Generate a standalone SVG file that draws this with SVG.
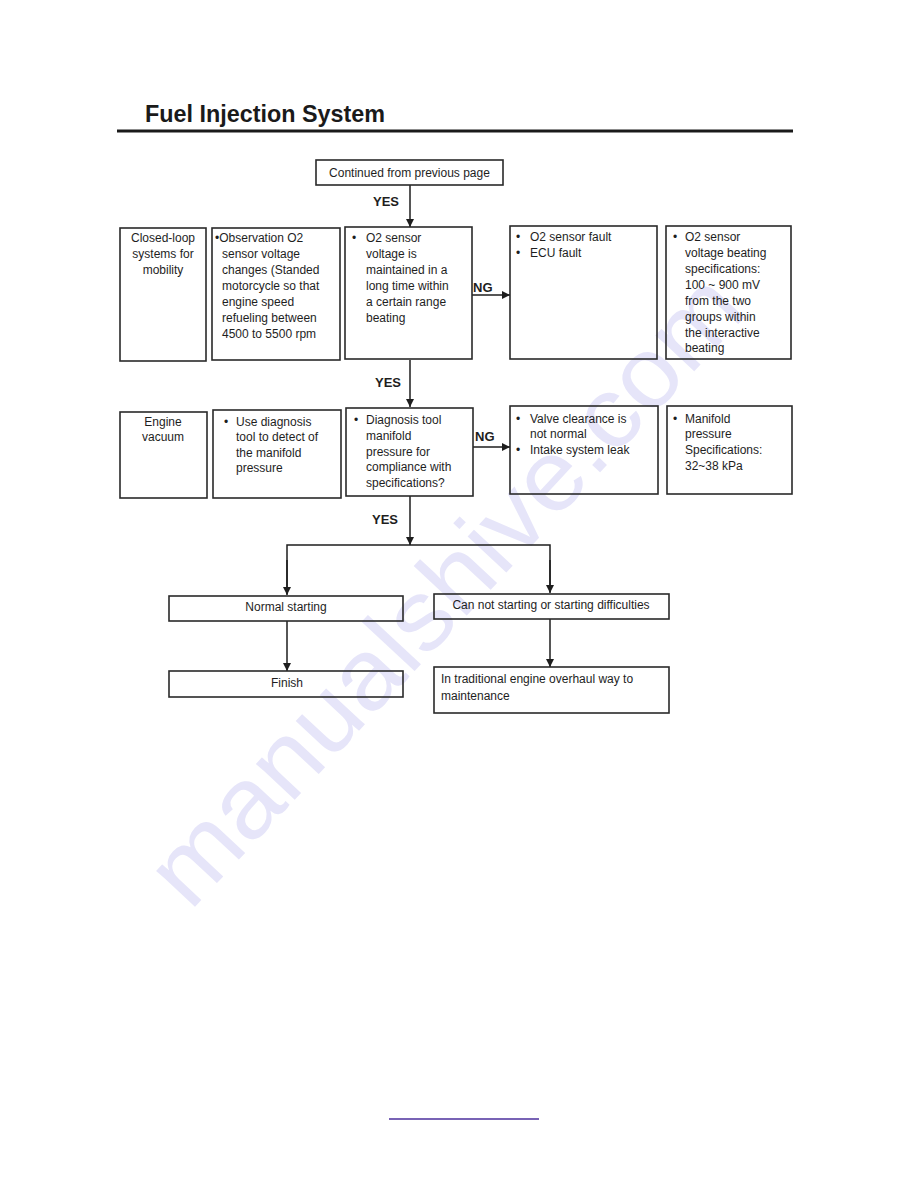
<svg xmlns="http://www.w3.org/2000/svg" width="918" height="1188" viewBox="0 0 918 1188">
<defs>
<marker id="ah" viewBox="0 0 10 10" refX="10" refY="5" markerWidth="9" markerHeight="8" markerUnits="userSpaceOnUse" orient="auto">
<path d="M0,0 L10,5 L0,10 z" fill="#1e1e1e"/>
</marker>
<style>
.bx{fill:none;stroke:#2a2a2a;stroke-width:1.6}
.t{font-family:"Liberation Sans",Arial,sans-serif;font-size:12px;fill:#1e1e1e}
.c{text-anchor:middle}
.lb{font-family:"Liberation Sans",Arial,sans-serif;font-size:13px;font-weight:bold;fill:#1e1e1e}
.ln{fill:none;stroke:#1e1e1e;stroke-width:1.5}
.wm{font-family:"Liberation Sans",Arial,sans-serif;font-size:100px;fill:#c8c6f3;opacity:0.45}
</style>
</defs>
<rect width="918" height="1188" fill="#ffffff"/>
<text class="wm" transform="translate(190,912) rotate(-47)" textLength="820" lengthAdjust="spacingAndGlyphs">manualshive.com</text>

<g id="header">
<text x="145" y="122" font-family="'Liberation Sans',Arial,sans-serif" font-size="24" font-weight="bold" fill="#1a1a1a" textLength="240" lengthAdjust="spacingAndGlyphs">Fuel Injection System</text>
<line x1="117" y1="131" x2="793" y2="131" stroke="#1a1a1a" stroke-width="3"/>
</g>

<g id="connectors">
<line class="ln" x1="410" y1="185" x2="410" y2="227" marker-end="url(#ah)"/>
<line class="ln" x1="472" y1="295" x2="510" y2="295" marker-end="url(#ah)"/>
<line class="ln" x1="410" y1="360" x2="410" y2="407" marker-end="url(#ah)"/>
<line class="ln" x1="473" y1="447" x2="510" y2="447" marker-end="url(#ah)"/>
<line class="ln" x1="410" y1="496" x2="410" y2="545" marker-end="url(#ah)"/>
<polyline class="ln" points="287,594 287,545 550,545 550,592"/>
<line class="ln" x1="287" y1="560" x2="287" y2="595" marker-end="url(#ah)"/>
<line class="ln" x1="550" y1="560" x2="550" y2="593" marker-end="url(#ah)"/>
<line class="ln" x1="287" y1="621" x2="287" y2="671" marker-end="url(#ah)"/>
<line class="ln" x1="550" y1="619" x2="550" y2="667" marker-end="url(#ah)"/>
<text class="lb" x="373" y="206">YES</text>
<text class="lb" x="375" y="387">YES</text>
<text class="lb" x="473" y="292">NG</text>
<text class="lb" x="475" y="441">NG</text>
<text class="lb" x="372" y="524">YES</text>
</g>

<g id="n-continued">
<rect class="bx" x="316" y="160" width="187" height="25"/>
<text class="t c" x="409.5" y="177">Continued from previous page</text>
</g>

<g id="n-closedloop">
<rect class="bx" x="120" y="228" width="86" height="133"/>
<text class="t c" x="163" y="242">Closed-loop</text>
<text class="t c" x="163" y="258">systems for</text>
<text class="t c" x="163" y="274">mobility</text>
</g>

<g id="n-observation">
<rect class="bx" x="212" y="228" width="128" height="132"/>
<text class="t" x="215" y="242">•Observation O2</text>
<text class="t" x="222" y="258">sensor voltage</text>
<text class="t" x="222" y="274">changes (Standed</text>
<text class="t" x="222" y="290">motorcycle so that</text>
<text class="t" x="222" y="306">engine speed</text>
<text class="t" x="222" y="322">refueling between</text>
<text class="t" x="222" y="338">4500 to 5500 rpm</text>
</g>

<g id="n-o2voltage">
<rect class="bx" x="345" y="227" width="127" height="132"/>
<text class="t" x="352" y="242">•</text>
<text class="t" x="366" y="242">O2 sensor</text>
<text class="t" x="366" y="258">voltage is</text>
<text class="t" x="366" y="274">maintained in a</text>
<text class="t" x="366" y="290">long time within</text>
<text class="t" x="366" y="306">a certain range</text>
<text class="t" x="366" y="322">beating</text>
</g>

<g id="n-o2fault">
<rect class="bx" x="510" y="226" width="147" height="133"/>
<text class="t" x="516" y="241">•</text>
<text class="t" x="530" y="241">O2 sensor fault</text>
<text class="t" x="516" y="257">•</text>
<text class="t" x="530" y="257">ECU fault</text>
</g>

<g id="n-o2spec">
<rect class="bx" x="666" y="226" width="125" height="133"/>
<text class="t" x="673" y="241">•</text>
<text class="t" x="685" y="241">O2 sensor</text>
<text class="t" x="685" y="257">voltage beating</text>
<text class="t" x="685" y="273">specifications:</text>
<text class="t" x="685" y="289">100 ~ 900 mV</text>
<text class="t" x="685" y="305">from the two</text>
<text class="t" x="685" y="321">groups within</text>
<text class="t" x="685" y="337">the interactive</text>
<text class="t" x="685" y="352">beating</text>
</g>

<g id="n-vacuum">
<rect class="bx" x="120" y="412" width="87" height="86"/>
<text class="t c" x="163" y="426">Engine</text>
<text class="t c" x="163" y="441">vacuum</text>
</g>

<g id="n-usetool">
<rect class="bx" x="213" y="410" width="128" height="88"/>
<text class="t" x="224" y="426">•</text>
<text class="t" x="236" y="426">Use diagnosis</text>
<text class="t" x="236" y="441">tool to detect of</text>
<text class="t" x="236" y="457">the manifold</text>
<text class="t" x="236" y="472">pressure</text>
</g>

<g id="n-diagtool">
<rect class="bx" x="346" y="408" width="127" height="88"/>
<text class="t" x="354" y="424">•</text>
<text class="t" x="366" y="424">Diagnosis tool</text>
<text class="t" x="366" y="440">manifold</text>
<text class="t" x="366" y="456">pressure for</text>
<text class="t" x="366" y="471">compliance with</text>
<text class="t" x="366" y="487">specifications?</text>
</g>

<g id="n-valve">
<rect class="bx" x="510" y="406" width="148" height="88"/>
<text class="t" x="516" y="423">•</text>
<text class="t" x="530" y="423">Valve clearance is</text>
<text class="t" x="530" y="438">not normal</text>
<text class="t" x="516" y="454">•</text>
<text class="t" x="530" y="454">Intake system leak</text>
</g>

<g id="n-manifoldspec">
<rect class="bx" x="667" y="406" width="125" height="88"/>
<text class="t" x="673" y="423">•</text>
<text class="t" x="685" y="423">Manifold</text>
<text class="t" x="685" y="438">pressure</text>
<text class="t" x="685" y="454">Specifications:</text>
<text class="t" x="685" y="470">32~38 kPa</text>
</g>

<g id="n-normal">
<rect class="bx" x="169" y="596" width="234" height="25"/>
<text class="t c" x="286" y="611">Normal starting</text>
</g>

<g id="n-cannot">
<rect class="bx" x="434" y="594" width="235" height="25"/>
<text class="t c" x="551" y="609">Can not starting or starting difficulties</text>
</g>

<g id="n-finish">
<rect class="bx" x="169" y="671" width="234" height="26"/>
<text class="t c" x="287" y="687">Finish</text>
</g>

<g id="n-overhaul">
<rect class="bx" x="434" y="667" width="235" height="46"/>
<text class="t" x="441" y="683">In traditional engine overhaul way to</text>
<text class="t" x="441" y="700">maintenance</text>
</g>

<line x1="389" y1="1119" x2="539" y2="1119" stroke="#4b2f9c" stroke-width="1.5"/>
</svg>
